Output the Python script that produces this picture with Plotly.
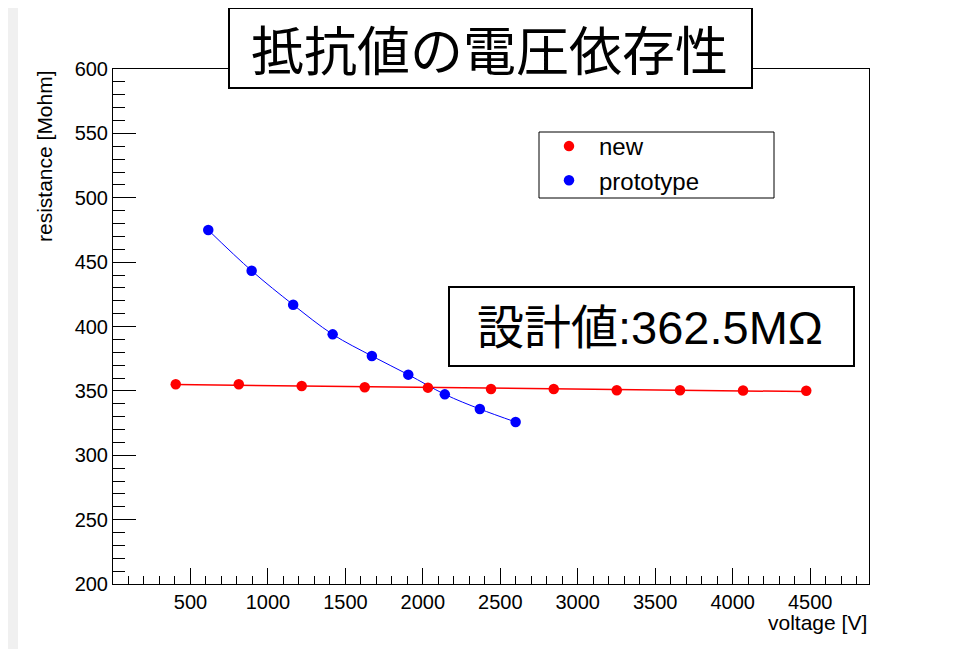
import numpy as np
import plotly.graph_objects as go

# ---------------- data ----------------
new_voltage = [405, 812, 1218, 1625, 2033, 2440, 2845, 3252, 3660, 4067, 4475]
new_resistance = [355.1, 355.1, 353.8, 352.8, 352.5, 351.5, 351.5, 350.5, 350.5, 350.3, 350.1]

proto_voltage = [615, 895, 1163, 1418, 1671, 1906, 2142, 2368, 2599]
proto_resistance = [474.9, 443.3, 416.9, 393.9, 377.1, 362.6, 347.3, 335.9, 325.8]

x_tick_vals = [500, 1000, 1500, 2000, 2500, 3000, 3500, 4000, 4500]
y_tick_vals = [200, 250, 300, 350, 400, 450, 500, 550, 600]

title_text = "抵抗値の電圧依存性"
design_text = "設計値:362.5MΩ"
series_names = ["new", "prototype"]

# ---------------- layout geometry ----------------
W, H = 962, 649
OFF = 8  # page offset of the figure inside the browser page
# plot-area edges in reference-screen pixels
L_s, R_s, T_s, B_s = 113, 869, 69, 584
L, R, T, B = L_s - OFF, R_s - OFF, T_s - OFF, B_s - OFF
PW, PH = R - L, B - T


def px(x):  # reference screen x -> paper x
    return (x - OFF - L) / PW


def py(y):  # reference screen y -> paper y
    return (B - (y - OFF)) / PH


LATIN = "Liberation Sans, Arial, Helvetica, sans-serif"
CJK = "Liberation Sans, Noto Sans CJK JP, sans-serif"

# linear fit for the "new" series (as in the original fit line)
coef = np.polyfit(new_voltage, new_resistance, 1)
fit_x = [new_voltage[0], new_voltage[-1]]
fit_y = list(np.polyval(coef, fit_x))

fig = go.Figure()

fig.add_trace(go.Scatter(x=fit_x, y=fit_y, mode="lines",
                         line=dict(color="#ff0000", width=1.5),
                         showlegend=False, hoverinfo="skip"))
fig.add_trace(go.Scatter(x=proto_voltage, y=proto_resistance, mode="lines",
                         line=dict(color="#0000ff", width=1, shape="spline", smoothing=1.0),
                         showlegend=False, hoverinfo="skip"))
fig.add_trace(go.Scatter(x=new_voltage, y=new_resistance, mode="markers",
                         name=series_names[0],
                         marker=dict(color="#ff0000", size=10.5, symbol="circle")))
fig.add_trace(go.Scatter(x=proto_voltage, y=proto_resistance, mode="markers",
                         name=series_names[1],
                         marker=dict(color="#0000ff", size=10.5, symbol="circle")))

axis_common = dict(
    showgrid=False, zeroline=False, showline=True, linecolor="black",
    linewidth=1, mirror=True, ticks="inside", tickcolor="black",
    tickwidth=1, tickfont=dict(family=LATIN, size=20, color="black"),
)

fig.update_xaxes(range=[0, 4880], tickmode="array", tickvals=x_tick_vals,
                 ticktext=[str(v) for v in x_tick_vals], ticklen=16,
                 minor=dict(tick0=0, dtick=100, ticks="inside", ticklen=8,
                            tickcolor="black", tickwidth=1),
                 **axis_common)
fig.update_yaxes(range=[200, 600], tickmode="array", tickvals=y_tick_vals,
                 ticktext=[str(v) for v in y_tick_vals], ticklen=23,
                 minor=dict(tick0=200, dtick=10, ticks="inside", ticklen=12,
                            tickcolor="black", tickwidth=1),
                 **axis_common)

shapes = [
    # white canvas over gray window background
    dict(type="rect", xref="paper", yref="paper", x0=px(18), x1=px(W + 20),
         y0=py(3), y1=py(H + 20), fillcolor="white", line=dict(width=0), layer="below"),
    # legend frame
    dict(type="rect", xref="paper", yref="paper", x0=px(539), x1=px(774),
         y0=py(132), y1=py(198), fillcolor="rgba(0,0,0,0)",
         line=dict(color="black", width=1), layer="above"),
    # title box
    dict(type="rect", xref="paper", yref="paper", x0=px(229), x1=px(752),
         y0=py(8), y1=py(88), fillcolor="white",
         line=dict(color="black", width=2), layer="above"),
    # design value box
    dict(type="rect", xref="paper", yref="paper", x0=px(449), x1=px(854),
         y0=py(287), y1=py(366), fillcolor="white",
         line=dict(color="black", width=2), layer="above"),
]

annotations = [
    dict(text=title_text, xref="paper", yref="paper", x=px(489), y=py(48),
         xanchor="center", yanchor="middle", showarrow=False,
         font=dict(family="Noto Sans CJK JP", size=53, color="black")),
    dict(text=design_text, xref="paper", yref="paper", x=px(650), y=py(327),
         xanchor="center", yanchor="middle", showarrow=False,
         font=dict(family=CJK, size=47, color="black")),
    dict(text="resistance [Mohm]", xref="paper", yref="paper", x=px(44), y=py(156),
         xanchor="center", yanchor="middle", textangle=-90, showarrow=False,
         font=dict(family=LATIN, size=21, color="black")),
    dict(text="voltage [V]", xref="paper", yref="paper", x=1.0, y=py(622),
         xanchor="right", yanchor="middle", showarrow=False,
         font=dict(family=LATIN, size=21, color="black")),
]

fig.update_layout(
    width=W, height=H,
    margin=dict(l=L, r=W - R, t=T, b=H - B, pad=0),
    paper_bgcolor="#f0f0f0", plot_bgcolor="white",
    showlegend=True,
    legend=dict(x=px(539), y=py(124), xanchor="left", yanchor="top",
                bgcolor="rgba(0,0,0,0)", borderwidth=0, itemwidth=50,
                font=dict(family=LATIN, size=24, color="black"),
                tracegroupgap=0),
    shapes=shapes, annotations=annotations,
)

fig.write_html("out.html")
